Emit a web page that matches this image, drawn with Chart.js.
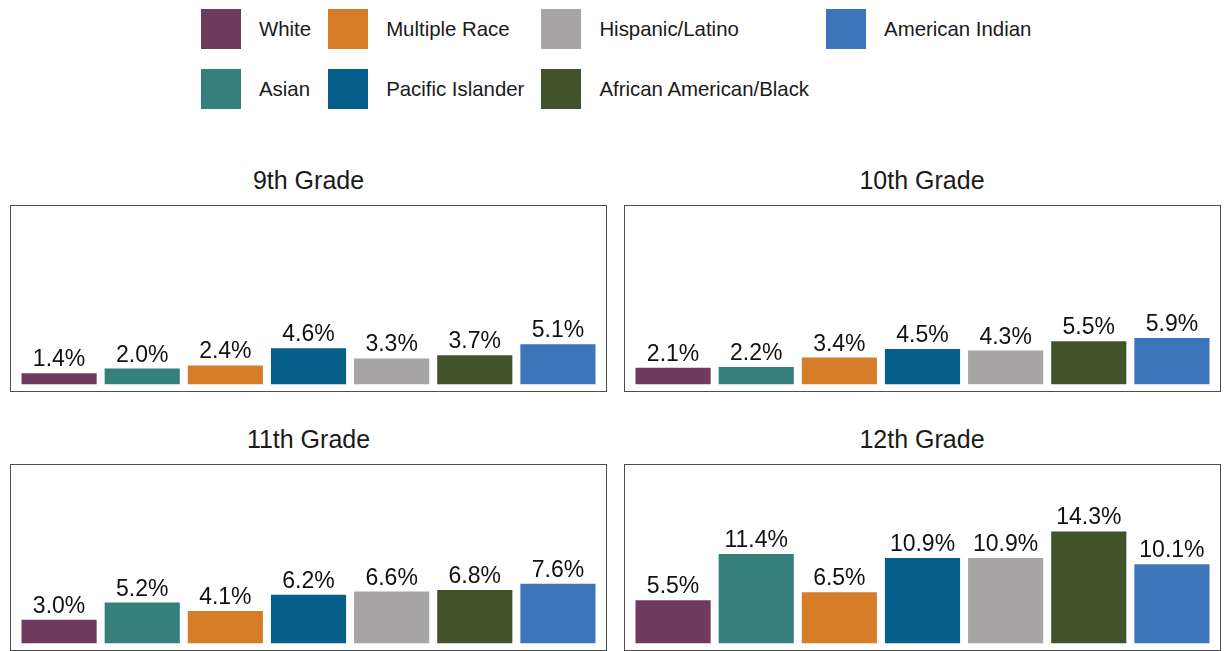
<!DOCTYPE html>
<html>
<head>
<meta charset="utf-8">
<script src="https://cdn.jsdelivr.net/npm/chart.js@4"></script>
<style>
  body { margin: 0; width: 1224px; height: 651px; background: #fff; position: relative; overflow: hidden;
         font-family: "Liberation Sans", Arial, sans-serif; color: #1a1a1a; }
  #legend { position: absolute; left: 201px; top: 9px; display: grid; grid-auto-flow: column;
            grid-template-rows: 40px 40px; row-gap: 20px; column-gap: 17px; }
  .item { display: flex; align-items: center; font-size: 20.4px; white-space: nowrap; }
  .swatch { width: 40px; height: 40px; margin-right: 18px; flex: none; }
  .title { position: absolute; width: 597px; text-align: center; font-size: 25px; line-height: 25px; }
  .panel { position: absolute; width: 597px; height: 187px; box-sizing: border-box; border: 1.5px solid #4d4d4d; }
  .panel canvas { display: block; }
</style>
</head>
<body>
<div id="legend"></div>

<div class="title" style="left:10px; top:168px;">9th Grade</div>
<div class="title" style="left:623.5px; top:168px;">10th Grade</div>
<div class="title" style="left:10px; top:427px;">11th Grade</div>
<div class="title" style="left:623.5px; top:427px;">12th Grade</div>

<div class="panel" style="left:10px; top:205px;"><canvas id="g9"></canvas></div>
<div class="panel" style="left:623.5px; top:205px;"><canvas id="g10"></canvas></div>
<div class="panel" style="left:10px; top:463.5px;"><canvas id="g11"></canvas></div>
<div class="panel" style="left:623.5px; top:463.5px;"><canvas id="g12"></canvas></div>

<script>
// categories in plotting order
const groups = ["White", "Asian", "Multiple Race", "Pacific Islander", "Hispanic/Latino", "African American/Black", "American Indian"];
const groupColors = ["#6E3A5E", "#35807D", "#D57D29", "#065E8B", "#A7A5A6", "#41532B", "#3D75B8"];

const grade9 = [1.4, 2.0, 2.4, 4.6, 3.3, 3.7, 5.1];
const grade10 = [2.1, 2.2, 3.4, 4.5, 4.3, 5.5, 5.9];
const grade11 = [3.0, 5.2, 4.1, 6.2, 6.6, 6.8, 7.6];
const grade12 = [5.5, 11.4, 6.5, 10.9, 10.9, 14.3, 10.1];

// legend (ggplot style: 2 rows, filled by column)
let legend = document.getElementById("legend");
groups.forEach(function (name, i) {
  let item = document.createElement("div");
  item.className = "item";
  item.innerHTML = '<span class="swatch" style="background:' + groupColors[i] + '"></span>' + name;
  legend.appendChild(item);
});

// value labels above the bars
const barLabels = {
  id: "barLabels",
  afterDatasetsDraw(chart) {
    let ctx = chart.ctx;
    let meta = chart.getDatasetMeta(0);
    let values = chart.data.datasets[0].data;
    ctx.save();
    ctx.font = '23px "Liberation Sans", Arial, sans-serif';
    ctx.fillStyle = "#111";
    ctx.textAlign = "center";
    ctx.textBaseline = "alphabetic";
    meta.data.forEach(function (bar, i) {
      ctx.fillText(values[i].toFixed(1) + "%", bar.x, bar.y - 7);
    });
    ctx.restore();
  },
};

function makePanel(id, values) {
  let ctx = document.getElementById(id).getContext("2d");
  return new Chart(ctx, {
    type: "bar",
    data: {
      labels: groups,
      datasets: [
        {
          data: values,
          backgroundColor: groupColors,
          borderWidth: 0,
          barPercentage: 1,
          categoryPercentage: 0.904,
        },
      ],
    },
    options: {
      responsive: true,
      maintainAspectRatio: false,
      animation: false,
      layout: { padding: { left: 6.5, right: 6.5, top: 0, bottom: 0 } },
      plugins: {
        legend: { display: false },
        tooltip: { enabled: false },
      },
      scales: {
        x: { display: false, offset: true },
        y: { display: false, min: -0.875, max: 22.8 },
      },
    },
    plugins: [barLabels],
  });
}

makePanel("g9", grade9);
makePanel("g10", grade10);
makePanel("g11", grade11);
makePanel("g12", grade12);
</script>
</body>
</html>
